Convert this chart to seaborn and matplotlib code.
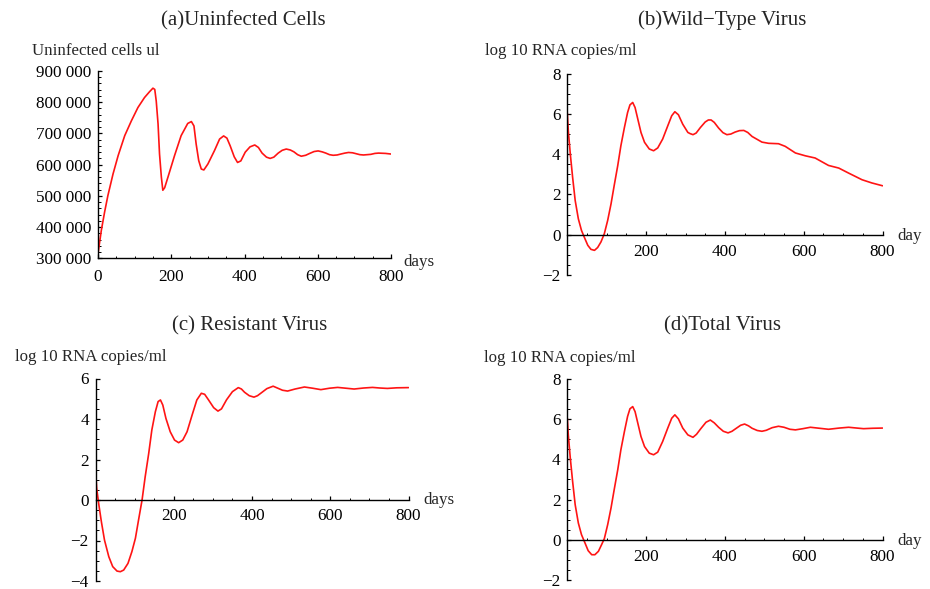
import matplotlib
matplotlib.use("Agg")
import matplotlib.pyplot as plt
from matplotlib.ticker import MultipleLocator
import seaborn as sns

# ---------------- data ----------------
# (a) Uninfected cells
days_a = [0, 2, 9, 18, 27, 41, 55, 73, 91, 109, 127, 141, 150, 155, 159, 164, 168, 173, 177, 182,
          191, 209, 227, 245, 255, 262, 268, 275, 282, 289, 300, 318, 332, 343, 352, 361, 372, 381,
          390, 402, 415, 428, 438, 448, 460, 470, 480, 492, 503, 514, 525, 535, 545, 555, 567, 578,
          590, 601, 612, 622, 632, 642, 653, 663, 674, 684, 695, 705, 715, 725, 735, 745, 756, 766,
          785, 800]
cells_a = [315000, 331000, 389000, 448000, 501000, 570000, 629000, 693000, 740000, 783000, 815000,
           834000, 845000, 841000, 804000, 730000, 634000, 560000, 518000, 526000, 560000, 629000,
           693000, 732000, 738000, 724000, 666000, 613000, 586000, 583000, 602000, 645000, 682000,
           692000, 685000, 660000, 625000, 607000, 612000, 640000, 657000, 663000, 655000, 637000,
           624000, 620000, 624000, 637000, 646000, 650000, 647000, 641000, 632000, 627000, 630000,
           636000, 642000, 644000, 641000, 637000, 632000, 630000, 631000, 634000, 637000, 639000,
           638000, 635000, 632000, 631000, 632000, 633000, 636000, 637000, 636000, 634000]

# (b) Wild-type virus
days_b = [0, 2.5, 7.6, 13.5, 20, 28, 36, 43, 52, 60, 69, 77, 85.5, 94, 102.5, 111, 119, 128, 136,
          145, 153, 159, 166, 172, 179, 187, 196, 208, 219, 229.5, 242, 255, 265, 273, 282, 293,
          306, 312, 319, 327, 338, 350, 358, 365, 373, 384, 395, 405, 415, 426, 437, 448, 458, 469,
          494, 511, 536, 553, 579, 604, 629, 663, 689, 714, 748, 773, 800]
wild_b = [6.05, 5.17, 4.01, 2.85, 1.70, 0.79, 0.21, -0.12, -0.53, -0.73, -0.78, -0.64, -0.36,
          0.05, 0.71, 1.53, 2.44, 3.43, 4.42, 5.33, 6.07, 6.45, 6.57, 6.32, 5.74, 5.08, 4.59, 4.26,
          4.17, 4.31, 4.75, 5.41, 5.91, 6.11, 5.96, 5.49, 5.08, 5.02, 4.97, 5.05, 5.33, 5.60, 5.70,
          5.70, 5.58, 5.30, 5.07, 4.97, 5.00, 5.10, 5.17, 5.18, 5.08, 4.88, 4.60, 4.54, 4.52, 4.39,
          4.06, 3.92, 3.81, 3.44, 3.31, 3.06, 2.73, 2.57, 2.43]

# (c) Resistant virus
days_c = [0, 3, 8, 15, 23, 34, 44, 55, 63.5, 72, 83, 93, 102, 110, 119, 127, 136, 144, 153, 160,
          166, 172, 180, 191, 202, 212.5, 223, 234, 247, 259, 270.5, 279, 289, 302, 313, 322, 335,
          350, 365, 373, 381, 393, 405, 414, 423, 438, 454, 466, 478, 491, 510, 534, 555, 576, 598,
          619, 640, 661, 685, 708, 727, 746, 770, 800]
res_c = [1.48, 0.58, -0.16, -1.07, -1.98, -2.80, -3.29, -3.51, -3.54, -3.46, -3.13, -2.55, -1.89,
         -0.99, 0.0, 1.15, 2.30, 3.46, 4.36, 4.86, 4.94, 4.69, 4.03, 3.37, 2.96, 2.83, 2.96, 3.37,
         4.20, 4.94, 5.27, 5.22, 4.94, 4.56, 4.39, 4.50, 4.95, 5.35, 5.55, 5.48, 5.32, 5.15, 5.08,
         5.15, 5.28, 5.50, 5.62, 5.52, 5.42, 5.38, 5.48, 5.58, 5.52, 5.45, 5.52, 5.56, 5.52, 5.48,
         5.53, 5.56, 5.53, 5.51, 5.54, 5.55]

# (d) Total virus
days_d = [0, 2.5, 7.6, 13.5, 20, 28, 36, 45, 53, 62, 70, 79, 87, 94, 102.5, 111, 119, 128, 136,
          145, 153, 159, 166, 172, 179, 187, 196, 208, 219, 229.5, 242, 255, 265, 273, 282, 293,
          306, 319, 328, 338, 352, 363, 373, 384, 396, 408, 418, 426, 440, 450, 460, 469, 482, 494,
          505, 520, 536, 550, 565, 579, 598, 617, 640, 663, 690, 714, 735, 752, 775, 800]
total_d = [6.05, 5.22, 4.06, 2.90, 1.74, 0.83, 0.25, -0.17, -0.55, -0.75, -0.75, -0.58, -0.25,
           0.05, 0.75, 1.58, 2.49, 3.48, 4.48, 5.39, 6.14, 6.52, 6.63, 6.38, 5.80, 5.14, 4.64, 4.31,
           4.23, 4.36, 4.89, 5.56, 6.05, 6.22, 6.02, 5.56, 5.22, 5.10, 5.25, 5.51, 5.85, 5.96, 5.82,
           5.60, 5.40, 5.32, 5.40, 5.51, 5.70, 5.76, 5.67, 5.55, 5.44, 5.40, 5.45, 5.58, 5.65, 5.60,
           5.50, 5.47, 5.53, 5.60, 5.55, 5.50, 5.56, 5.60, 5.56, 5.53, 5.55, 5.56]

titles = ["(a)Uninfected Cells", "(b)Wild\u2212Type Virus", "(c) Resistant Virus", "(d)Total Virus"]
ylabels = ["Uninfected cells ul", "log 10 RNA copies/ml", "log 10 RNA copies/ml", "log 10 RNA copies/ml"]
xlabels = ["days", "day", "days", "day"]

yticks_a = [300000, 400000, 500000, 600000, 700000, 800000, 900000]
yticklabels_a = ["300 000", "400 000", "500 000", "600 000", "700 000", "800 000", "900 000"]
xticks_a = [0, 200, 400, 600, 800]
xticks_bcd = [200, 400, 600, 800]
yticks_bd = [-2, 0, 2, 4, 6, 8]
yticks_c = [-4, -2, 0, 2, 4, 6]

# ---------------- style ----------------
sns.set_style("ticks")
plt.rcParams['font.family'] = ['Liberation Serif', 'DejaVu Serif']
plt.rcParams['axes.unicode_minus'] = True

W, H = 930, 589
fig = plt.figure(figsize=(W / 100, H / 100), dpi=100)


def add_ax(x0, x1, ytop, ybot):
    return fig.add_axes([x0 / W, 1 - ybot / H, (x1 - x0) / W, (ybot - ytop) / H])


def fx(px):
    return px / W


def fy(py):
    return 1 - py / H


TICK_FS = 12.3
LAB_FS = 12.2
TITLE_FS = 15
RED = "#ff1414"


def style_axis(ax, xlim, ylim, yminor, xpad, zero_axes=True):
    ax.set_xlim(*xlim)
    ax.set_ylim(*ylim)
    for s in ("top", "right"):
        ax.spines[s].set_visible(False)
    if zero_axes:
        ax.spines["bottom"].set_position(("data", 0))
    for s in ("left", "bottom"):
        ax.spines[s].set_linewidth(1.0)
        ax.spines[s].set_color("black")
    ax.xaxis.set_minor_locator(MultipleLocator(50))
    ax.yaxis.set_minor_locator(MultipleLocator(yminor))
    ax.tick_params(which="major", direction="in", length=3.2, width=0.9, colors="black",
                   labelsize=TICK_FS)
    ax.tick_params(which="minor", direction="in", length=1.8, width=0.7, colors="black")
    ax.tick_params(axis="y", which="major", pad=4.8)
    ax.tick_params(axis="x", which="major", pad=xpad)
    ax.set_xlabel("")
    ax.set_ylabel("")
    ax.set_facecolor("white")


# (a)
ax_a = add_ax(98, 391, 71, 258.3)
sns.lineplot(x=days_a, y=cells_a, ax=ax_a, color=RED, lw=1.2)
style_axis(ax_a, (0, 800), (300000, 900000), 20000, 8.0, zero_axes=False)
ax_a.set_xticks(xticks_a)
ax_a.set_yticks(yticks_a)
ax_a.set_yticklabels(yticklabels_a)

# (b)
ax_b = add_ax(567.3, 882.5, 73.7, 274.9)
sns.lineplot(x=days_b, y=wild_b, ax=ax_b, color=RED, lw=1.2)
style_axis(ax_b, (0, 800), (-2, 8), 0.5, 6.7)
ax_b.set_xticks(xticks_bcd)
ax_b.set_yticks(yticks_bd)

# (c)
ax_c = add_ax(95.5, 408.5, 378.5, 581)
sns.lineplot(x=days_c, y=res_c, ax=ax_c, color=RED, lw=1.2)
style_axis(ax_c, (0, 800), (-4, 6), 0.5, 5.6)
ax_c.set_xticks(xticks_bcd)
ax_c.set_yticks(yticks_c)

# (d)
ax_d = add_ax(567.3, 882.5, 379.1, 579.8)
sns.lineplot(x=days_d, y=total_d, ax=ax_d, color=RED, lw=1.2)
style_axis(ax_d, (0, 800), (-2, 8), 0.5, 7.0)
ax_d.set_xticks(xticks_bcd)
ax_d.set_yticks(yticks_bd)

# titles
title_pos = [(243, 25), (722, 25), (250, 330), (722.5, 330)]
for t, (px, py) in zip(titles, title_pos):
    fig.text(fx(px), fy(py), t, ha="center", va="baseline", fontsize=TITLE_FS)

# y labels
ylab_pos = [(32, 55), (485, 55), (15, 361), (484, 361.5)]
for t, (px, py) in zip(ylabels, ylab_pos):
    fig.text(fx(px), fy(py), t, ha="left", va="baseline", fontsize=LAB_FS)

# x labels
xlab_pos = [(403, 266), (897, 240.5), (423, 504), (897, 545)]
for t, (px, py) in zip(xlabels, xlab_pos):
    fig.text(fx(px), fy(py), t, ha="left", va="baseline", fontsize=LAB_FS)

fig.savefig("out.png", dpi=100, facecolor="white")
